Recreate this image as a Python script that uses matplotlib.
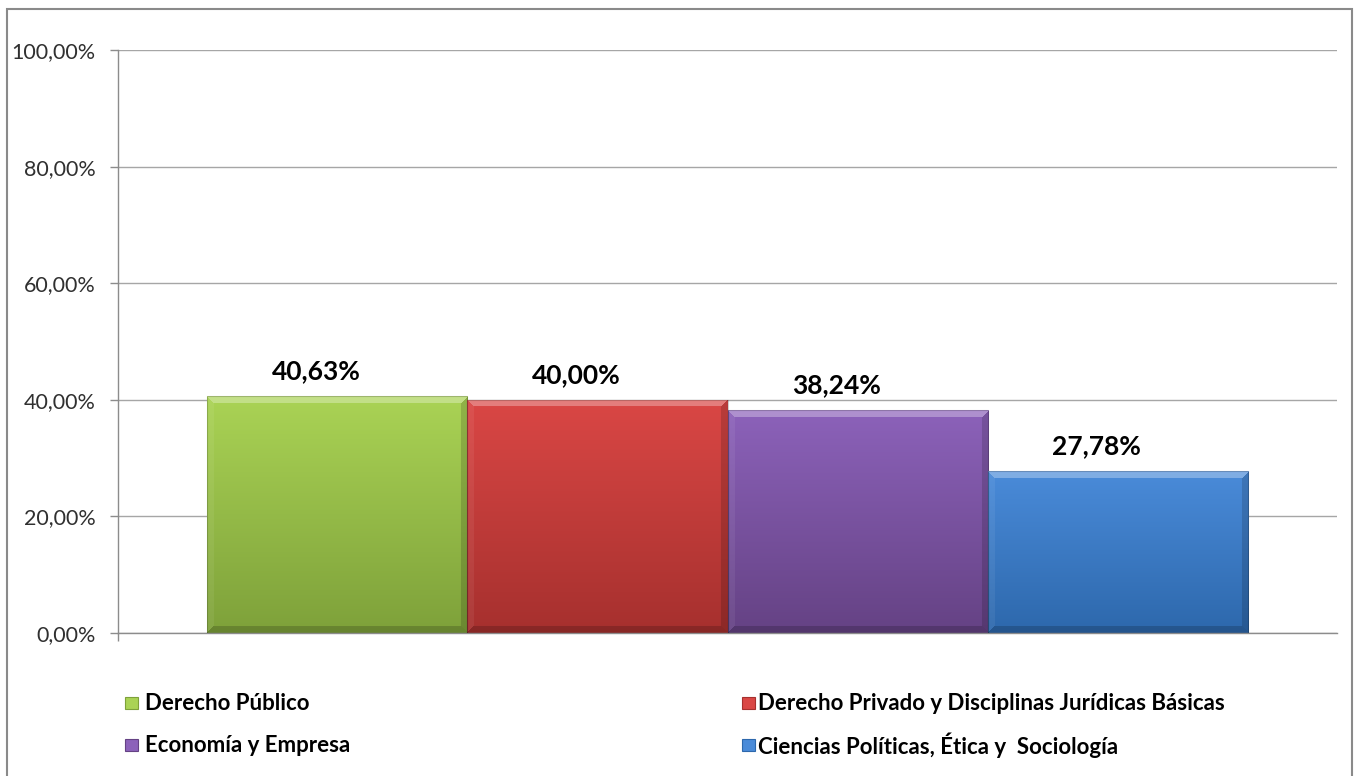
import numpy as np
import matplotlib.pyplot as plt
from matplotlib.colors import to_rgb
from matplotlib.patches import Rectangle

categories = ["Derecho Público",
              "Derecho Privado y Disciplinas Jurídicas Básicas",
              "Economía y Empresa",
              "Ciencias Políticas, Ética y  Sociología"]
values = [40.63, 40.00, 38.24, 27.78]
value_labels = ["40,63%", "40,00%", "38,24%", "27,78%"]
top_colors = ["#aad355", "#da4745", "#8c62ba", "#4a8bd9"]
bottom_colors = ["#7ea13a", "#a6302e", "#654284", "#2d68ac"]
yticks = [0, 20, 40, 60, 80, 100]
ytick_labels = ["0,00%", "20,00%", "40,00%", "60,00%", "80,00%", "100,00%"]

plt.rcParams['font.family'] = ['Lato', 'DejaVu Sans']

W, H = 1357, 776


def bar_image(val, c_top, c_bot, w=260, bevel=7):
    # vertical gradient with a simple bevel on the edges
    h = max(int(round(val * 5.83)), 2 * bevel + 2)
    t = np.linspace(0, 1, h)[:, None, None]
    base = (1 - t) * np.array(to_rgb(c_top)) + t * np.array(to_rgb(c_bot))
    img = np.broadcast_to(base, (h, w, 3)).copy()
    yy, xx = np.mgrid[0:h, 0:w]
    d = np.stack([yy, h - 1 - yy, xx, w - 1 - xx])
    nearest = d.argmin(0)
    edge = d.min(0) < bevel
    shade = np.array([0.30, -0.18, 0.06, -0.15])
    s = (shade[nearest] * edge)[..., None]
    img = np.where(s > 0, img + (1 - img) * s, img * (1 + s))
    return np.clip(img, 0, 1)


fig = plt.figure(figsize=(W / 100, H / 100), dpi=100)
ax = fig.add_axes([118 / W, 143 / H, 1219 / W, 583 / H])

x = np.arange(len(values))
bars = ax.bar(x, values, width=1.0, color="none",
              edgecolor="#00000030", linewidth=0.8, zorder=3)
for b, v, ct, cb in zip(bars, values, top_colors, bottom_colors):
    x0 = b.get_x()
    im = ax.imshow(bar_image(v, ct, cb), extent=(x0, x0 + b.get_width(), 0, v),
                   aspect='auto', origin='upper', zorder=2, interpolation='bilinear')
    im.set_clip_path(b)

for xi, v, lab in zip(x, values, value_labels):
    ax.annotate(lab, (xi, v), xytext=(-15, 18), textcoords='offset points',
                ha='center', va='center', fontsize=19, fontweight='bold', color='black')

ax.set_xlim(-0.844, 3.844)
ax.set_ylim(0, 100)
ax.set_yticks(yticks)
ax.set_yticklabels(ytick_labels, fontsize=15.5, color='#303030')
ax.set_xticks([-0.844])
ax.set_xticklabels([])
ax.tick_params(axis='both', length=6, width=1, color='#8c8c8c', direction='out', pad=10)
ax.yaxis.grid(True, color='#a6a6a6', linewidth=1)
ax.set_axisbelow(True)
for side in ['top', 'right']:
    ax.spines[side].set_visible(False)
for side in ['left', 'bottom']:
    ax.spines[side].set_color('#8c8c8c')
    ax.spines[side].set_linewidth(1)

# legend: two columns, two rows
leg_x = [125, 742, 125, 742]
leg_tx = [145, 758, 145, 758]
leg_y = [703, 703, 745, 745]
for name, ct, cb, lx, tx, ly in zip(categories, top_colors, bottom_colors, leg_x, leg_tx, leg_y):
    fig.patches.append(Rectangle((lx / W, (H - ly - 6) / H), 13 / W, 12 / H,
                                 transform=fig.transFigure, facecolor=ct,
                                 edgecolor=cb, linewidth=0.8))
    fig.text(tx / W, (H - ly + 2) / H, name, fontsize=16, fontweight='bold',
             va='center_baseline', ha='left', color='black')

fig.patches.append(Rectangle((7 / W, -0.01), 1345 / W, 767 / H + 0.01,
                             transform=fig.transFigure, fill=False,
                             edgecolor='#8a8a8a', linewidth=1.5))

fig.savefig("out.png", dpi=100)
